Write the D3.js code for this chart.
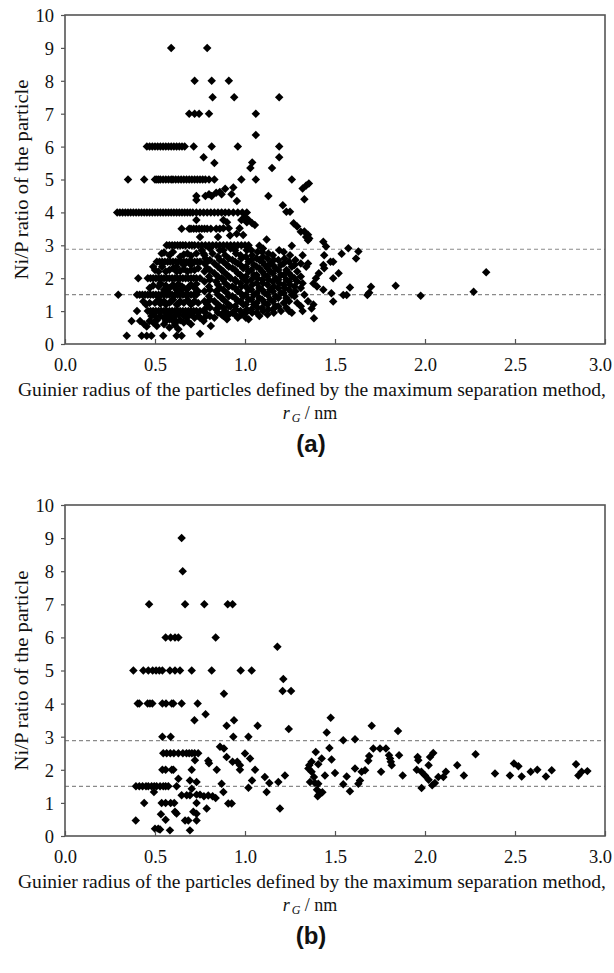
<!DOCTYPE html>
<html>
<head>
<meta charset="utf-8">
<script src="https://cdn.jsdelivr.net/npm/d3@7"></script>
<style>
  body { margin: 0; background: #fff; }
  svg { display: block; }
</style>
</head>
<body>
<svg id="fig" width="614" height="973"></svg>
<script>
// axis ticks and the two reference levels
const xTicks = [0, 0.5, 1.0, 1.5, 2.0, 2.5, 3.0];
const yTicks = [0, 1, 2, 3, 4, 5, 6, 7, 8, 9, 10];
const refLevels = [2.88, 1.5];

// (a) points lying on the integer / half-integer bands
const bandsA = [
  [0.59,9],[0.79,9],
  [0.72,8],[0.815,8],[0.91,8],
  [0.82,7.5],[0.94,7.5],[1.19,7.5],
  [0.69,7],[0.72,7],[0.745,7],[0.80,7],[1.06,7],
  [0.455,6],[0.47,6],[0.485,6],[0.50,6],[0.515,6],[0.53,6],[0.545,6],[0.56,6],[0.575,6],[0.59,6],
  [0.605,6],[0.62,6],[0.635,6],[0.65,6],[0.665,6],[0.715,6],[0.815,6],[0.96,6],[1.19,6],
  [0.35,5],[0.44,5],[0.50,5],[0.51,5],[0.52,5],[0.53,5],[0.545,5],[0.56,5],[0.575,5],[0.59,5],
  [0.60,5],[0.615,5],[0.63,5],[0.645,5],[0.66,5],[0.675,5],[0.69,5],[0.705,5],[0.72,5],[0.735,5],
  [0.75,5],[0.765,5],[0.78,5],[0.80,5],[0.83,5],[0.98,5],[1.06,5],[1.26,5],
  [0.29,4],[0.305,4],[0.32,4],[0.335,4],[0.35,4],[0.365,4],[0.38,4],[0.395,4],[0.41,4],[0.425,4],
  [0.44,4],[0.455,4],[0.47,4],[0.485,4],[0.50,4],[0.515,4],[0.53,4],[0.545,4],[0.56,4],[0.575,4],
  [0.59,4],[0.605,4],[0.62,4],[0.635,4],[0.65,4],[0.665,4],[0.68,4],[0.695,4],[0.71,4],[0.73,4],
  [0.75,4],[0.77,4],[0.79,4],[0.81,4],[0.83,4],[0.85,4],[0.87,4],[0.89,4],[0.91,4],[0.935,4],
  [0.96,4],[0.985,4],[1.01,4],
  [0.648,3.5],[0.69,3.5],[0.70,3.5],[0.715,3.5],[0.73,3.5],[0.745,3.5],[0.76,3.5],[0.775,3.5],
  [0.79,3.5],[0.81,3.5],[0.84,3.5],[0.86,3.5],[0.88,3.52],[0.91,3.52],[0.97,3.52],
  [0.565,3],[0.58,3],[0.595,3],[0.61,3],[0.625,3],[0.64,3],[0.655,3],[0.67,3],[0.69,3],[0.705,3],
  [0.72,3],[0.74,3],[0.76,3],[0.78,3],[0.80,3],[0.82,3],[0.84,3],[0.86,3],[0.88,3],[0.90,3],
  [0.92,3],[0.94,3],[0.96,3],[0.98,3],[1.0,3],[1.02,3],
  [0.51,2.5],[0.525,2.5],[0.54,2.5],[0.555,2.5],[0.57,2.5],[0.585,2.5],[0.60,2.5],[0.615,2.5],
  [0.63,2.5],[0.645,2.5],[0.66,2.5],[0.675,2.5],[0.69,2.5],[0.705,2.5],[0.72,2.5],[0.735,2.5],
  [0.75,2.5],[0.79,2.5],
  [0.407,2],[0.46,2],[0.475,2],[0.49,2],[0.505,2],[0.52,2],[0.535,2],[0.55,2],[0.565,2],[0.58,2],
  [0.595,2],[0.61,2],[0.625,2],[0.64,2],[0.655,2],[0.67,2],[0.685,2],[0.70,2],[0.715,2],[0.73,2],[0.75,2],
  [0.296,1.5],[0.40,1.5],[0.415,1.5],[0.43,1.5],[0.445,1.5],[0.46,1.5],[0.475,1.5],[0.49,1.5],
  [0.505,1.5],[0.52,1.5],[0.535,1.5],[0.55,1.5],[0.565,1.5],[0.58,1.5],[0.595,1.5],[0.61,1.5],
  [0.625,1.5],[0.64,1.5],[0.655,1.5],[0.67,1.5],[0.685,1.5],[0.70,1.5],[0.715,1.5],[0.73,1.5],
  [0.40,1],[0.46,1],[0.475,1],[0.49,1],[0.505,1],[0.52,1],[0.535,1],[0.55,1],[0.565,1],[0.58,1],
  [0.595,1],[0.61,1],[0.625,1],[0.64,1],[0.655,1],[0.67,1],[0.685,1],[0.70,1],[0.715,1],[0.73,1],[0.75,1]
];

// (a) points off the bands
const scatterA = [
  [1.06,6.35],[0.77,5.68],[1.19,5.68],[0.83,5.5],[1.04,5.52],[1.03,5.35],[1.15,5.35],
  [1.32,4.73],[1.34,4.82],[1.355,4.88],
  [0.73,4.5],[0.78,4.5],[0.80,4.55],[0.815,4.5],[0.84,4.6],[0.86,4.62],[0.87,4.55],[0.89,4.72],
  [0.925,4.55],[0.935,4.76],[0.955,4.35],[0.73,4.38],[1.13,4.5],[1.33,4.4],
  [1.21,4.22],[1.23,4.02],[1.25,4.02],
  [0.73,3.77],[0.88,3.77],[0.90,3.7],[0.98,3.77],[1.0,3.86],[1.02,3.77],[1.01,3.7],[1.04,3.67],[1.055,3.62],
  [0.954,3.35],[0.75,3.25],[0.85,3.25],[0.917,3.3],[0.99,3.31],[1.12,3.18],
  [1.27,3.67],[1.29,3.57],[1.31,3.41],[1.34,3.25],[1.35,3.15],[1.357,3.21],[1.35,3.32],[1.33,3.42],
  [1.08,2.99],[1.10,2.9],[1.26,2.99],[1.435,3.11],[1.45,2.96],[1.574,2.91],[1.63,2.81],[1.537,2.74],
  [1.617,2.6],[1.44,2.7],[1.49,2.5],[1.475,2.5],[1.435,2.4],[1.44,2.3],[1.52,2.15],[1.49,2.0],
  [1.394,2.0],[1.41,2.15],[1.38,1.84],[1.4,1.75],[1.435,1.65],[1.583,1.72],[1.48,1.54],[1.49,1.29],
  [1.546,1.49],[1.565,1.49],[1.68,1.49],[1.69,1.56],[1.70,1.74],[1.837,1.77],[1.976,1.47],
  [2.27,1.59],[2.34,2.18],[1.383,0.78],[1.37,1.08],[1.38,1.2],[1.35,1.3],[1.33,1.5],[1.32,1.0],
  [1.32,1.85],[1.32,2.7],[1.34,2.35],[1.35,2.45],
  [0.537,2.75],[0.73,2.75],[0.77,2.75],[0.49,2.35],[0.54,2.35],[0.60,2.3],[0.66,2.4],
  [0.37,0.7],[0.417,0.7],[0.47,0.7],[0.49,0.65],[0.51,0.72],[0.56,0.7],[0.58,0.75],[0.60,0.7],
  [0.62,0.68],[0.64,0.72],[0.66,0.65],[0.68,0.7],[0.454,0.53],[0.51,0.55],[0.58,0.5],[0.63,0.45],
  [0.343,0.25],[0.426,0.25],[0.454,0.25],[0.48,0.25],[0.546,0.25],[0.62,0.25],[0.648,0.25],[0.75,0.31],
  [0.435,1.29],[0.45,1.2],[0.50,1.25],[0.52,1.35],[0.55,1.3],[0.58,1.25],[0.60,1.35],[0.62,1.2],
  [0.64,1.3],[0.66,1.25],[0.68,1.33],[0.70,1.2],[0.72,1.3],[0.74,1.25],[0.47,1.7],[0.52,1.75],
  [0.55,1.65],[0.58,1.7],[0.60,1.8],[0.62,1.65],[0.65,1.75],[0.68,1.67],[0.70,1.8],[0.72,1.7],
  [0.74,1.6],[0.53,1.85],[0.57,1.6],[0.64,1.6],[0.48,0.85],[0.53,0.85],[0.57,0.9],[0.61,0.85],
  [0.66,0.85],[0.70,0.9],[0.74,0.85],[0.75,0.8],[0.56,2.2],[0.62,2.2],[0.68,2.2],[0.72,2.25],
  [0.58,2.7],[0.64,2.65],[0.68,2.75],[0.62,2.35],[0.70,2.4],[0.74,2.3],
  [0.55,2.78],[0.60,2.8],[0.66,2.72],[0.70,2.68],[0.50,2.25],[0.52,2.2],[0.58,2.25],[0.64,2.22],
  [0.66,2.28],[0.70,2.25],[0.49,1.78],[0.56,1.78],[0.61,1.72],[0.63,1.82],[0.66,1.7],[0.69,1.75],
  [0.73,1.82],[0.47,1.25],[0.53,1.22],[0.56,1.2],[0.59,1.3],[0.63,1.22],[0.69,1.28],[0.71,1.25],
  [0.50,0.85],[0.55,0.8],[0.59,0.82],[0.63,0.9],[0.68,0.82],[0.72,0.8],[0.44,0.6],[0.55,0.6],
  [0.61,0.58],[0.70,0.6]
];

// (a) the dense cloud right of the bands
const cloudA = [
  [0.76,2.85],[0.78,2.6],[0.79,2.3],[0.80,2.05],[0.80,1.75],[0.80,1.45],[0.79,1.2],[0.78,0.95],[0.77,0.7],[0.81,0.55],
  [0.82,2.75],[0.83,2.45],[0.83,2.15],[0.84,1.9],[0.84,1.6],[0.83,1.3],[0.84,1.05],[0.83,0.8],
  [0.86,2.85],[0.86,2.55],[0.87,2.25],[0.87,2.0],[0.86,1.7],[0.87,1.4],[0.86,1.15],[0.87,0.9],
  [0.89,2.7],[0.90,2.4],[0.90,2.1],[0.89,1.85],[0.90,1.55],[0.90,1.25],[0.89,1.0],[0.90,0.75],
  [0.92,2.9],[0.93,2.55],[0.93,2.3],[0.92,2.0],[0.93,1.75],[0.93,1.45],[0.92,1.15],[0.93,0.95],
  [0.95,2.75],[0.96,2.45],[0.96,2.15],[0.95,1.9],[0.96,1.6],[0.96,1.3],[0.95,1.05],[0.96,0.8],
  [0.98,2.6],[0.99,2.3],[0.99,2.0],[0.98,1.75],[0.99,1.45],[0.99,1.2],[0.98,0.9],
  [1.01,2.85],[1.02,2.5],[1.02,2.2],[1.01,1.9],[1.02,1.65],[1.02,1.35],[1.01,1.05],[1.02,0.75],
  [1.04,2.7],[1.05,2.4],[1.05,2.1],[1.04,1.8],[1.05,1.5],[1.05,1.2],[1.04,0.95],
  [1.07,2.8],[1.08,2.55],[1.08,2.3],[1.07,2.0],[1.08,1.7],[1.08,1.4],[1.07,1.1],[1.08,0.85],
  [1.10,2.65],[1.11,2.4],[1.11,2.1],[1.10,1.85],[1.11,1.55],[1.11,1.25],[1.10,1.0],
  [1.13,2.75],[1.14,2.45],[1.14,2.2],[1.13,1.95],[1.14,1.65],[1.14,1.35],[1.13,1.05],
  [1.16,2.55],[1.17,2.3],[1.17,2.0],[1.16,1.75],[1.17,1.45],[1.17,1.15],[1.16,0.95],
  [1.19,2.85],[1.20,2.4],[1.20,2.1],[1.19,1.85],[1.20,1.55],[1.20,1.0],
  [1.22,2.6],[1.23,2.25],[1.23,1.95],[1.22,1.7],[1.23,1.4],[1.23,1.1],
  [1.25,2.7],[1.26,2.35],[1.26,2.05],[1.25,1.8],[1.26,1.5],[1.26,0.95],
  [1.28,2.55],[1.29,2.2],[1.29,1.9],[1.28,1.6],[1.29,1.25],
  [1.31,2.45],[1.31,2.05],[1.31,1.7],[1.31,1.15],
  [0.775,2.7],[0.775,2.45],[0.775,2.2],[0.775,1.9],[0.775,1.6],[0.775,1.3],[0.775,1.05],[0.775,0.8],
  [0.805,2.9],[0.805,2.55],[0.805,2.25],[0.805,1.95],[0.805,1.65],[0.805,1.35],[0.805,1.1],[0.805,0.85],
  [0.85,2.65],[0.85,2.35],[0.85,2.05],[0.85,1.8],[0.85,1.5],[0.85,1.2],[0.85,0.95],
  [0.88,2.85],[0.88,2.5],[0.88,2.2],[0.88,1.95],[0.88,1.65],[0.88,1.35],[0.88,1.1],[0.88,0.85],
  [0.91,2.6],[0.91,2.35],[0.91,2.05],[0.91,1.75],[0.91,1.45],[0.91,1.15],[0.91,0.9],
  [0.945,2.85],[0.945,2.5],[0.945,2.25],[0.945,1.95],[0.945,1.7],[0.945,1.4],[0.945,1.15],[0.945,0.9],
  [0.975,2.7],[0.975,2.4],[0.975,2.1],[0.975,1.85],[0.975,1.55],[0.975,1.3],[0.975,1.0],
  [1.005,2.65],[1.005,2.35],[1.005,2.05],[1.005,1.75],[1.005,1.5],[1.005,1.2],[1.005,0.95],[1.005,0.8],
  [1.035,2.85],[1.035,2.55],[1.035,2.25],[1.035,1.95],[1.035,1.65],[1.035,1.35],[1.035,1.05],
  [1.065,2.6],[1.065,2.35],[1.065,2.1],[1.065,1.85],[1.065,1.55],[1.065,1.25],[1.065,0.95],
  [1.095,2.8],[1.095,2.5],[1.095,2.2],[1.095,1.95],[1.095,1.65],[1.095,1.35],[1.095,1.1],
  [1.125,2.6],[1.125,2.3],[1.125,2.05],[1.125,1.8],[1.125,1.5],[1.125,1.2],[1.125,0.9],
  [1.155,2.7],[1.155,2.4],[1.155,2.15],[1.155,1.9],[1.155,1.6],[1.155,1.3],[1.155,1.05],
  [1.185,2.55],[1.185,2.25],[1.185,1.95],[1.185,1.7],[1.185,1.4],[1.185,1.15],
  [1.215,2.8],[1.215,2.45],[1.215,2.1],[1.215,1.8],[1.215,1.55],[1.215,1.25],
  [1.245,2.5],[1.245,2.15],[1.245,1.9],[1.245,1.65],[1.245,1.3],[1.245,1.0],
  [1.275,2.4],[1.275,2.0],[1.275,1.75],[1.275,1.45]
];

// (b) points
const pointsB = [
  [0.648,9],[0.654,8],[0.467,7],[0.667,7],[0.774,7],[0.904,7],[0.931,7],
  [0.559,6],[0.587,6],[0.611,6],[0.63,6],[0.837,6],[1.18,5.72],
  [0.38,5],[0.435,5],[0.463,5],[0.487,5],[0.506,5],[0.524,5],[0.541,5],[0.583,5],[0.611,5],
  [0.639,5],[0.704,5],[0.815,5],[0.976,5],[1.037,5],
  [1.213,4.74],[1.209,4.38],[1.256,4.38],[0.883,4.3],
  [0.404,4],[0.413,4],[0.459,4],[0.472,4],[0.485,4],[0.541,4],[0.561,4],[0.593,4],[0.602,4],
  [0.648,4],[0.737,4],
  [0.781,3.68],[0.719,3.5],[0.939,3.5],[0.898,3.33],[1.07,3.33],[1.243,3.23],
  [0.541,3],[0.587,3],[0.935,3],[1.019,3],
  [0.546,2.5],[0.565,2.5],[0.585,2.5],[0.605,2.5],[0.63,2.5],[0.655,2.5],[0.675,2.5],[0.69,2.5],
  [0.705,2.5],[0.72,2.5],[0.74,2.5],
  [0.861,2.7],[0.883,2.64],[1.0,2.49],[0.722,2.29],[0.796,2.27],[0.80,2.2],[0.898,2.39],
  [0.931,2.24],[0.957,2.24],[1.028,2.34],
  [0.541,2],[0.559,2],[0.593,2],[0.602,2],[0.704,2],[0.843,2],[0.972,2],[1.056,2],[0.972,2.14],
  [0.63,1.73],[0.694,1.68],[0.731,1.63],[1.11,1.78],[1.135,1.6],[1.185,1.63],[1.222,1.83],
  [1.039,1.68],[0.87,1.58],
  [0.394,1.5],[0.413,1.5],[0.431,1.5],[0.45,1.5],[0.463,1.5],[0.481,1.5],[0.496,1.5],[0.509,1.5],
  [0.528,1.5],[0.546,1.5],[0.559,1.5],[0.574,1.5],[0.62,1.5],[1.019,1.46],
  [0.494,1.33],[0.88,1.33],[1.12,1.33],[0.648,1.23],[0.676,1.23],[0.694,1.23],[0.731,1.25],
  [0.75,1.25],[0.772,1.2],[0.796,1.22],[0.82,1.2],[0.837,1.15],[0.704,1.43],
  [0.44,1],[0.537,1],[0.559,1],[0.587,1],[0.607,1],[0.731,1],[0.907,0.98],[0.926,0.98],
  [1.194,0.83],[0.787,0.83],[0.393,0.47],[0.533,0.66],[0.611,0.73],[0.62,0.68],
  [0.667,0.47],[0.685,0.47],[0.731,0.47],[0.713,0.73],[0.731,0.67],[0.559,0.49],
  [0.5,0.22],[0.518,0.22],[0.528,0.2],[0.583,0.17],[0.694,0.17],
  [1.476,3.57],[1.454,3.13],[1.704,3.33],[1.85,3.17],[1.546,2.89],[1.611,2.92],[1.469,2.66],
  [1.393,2.54],[1.713,2.64],[1.75,2.64],[1.783,2.64],[1.69,2.42],[1.8,2.44],[1.806,2.34],
  [1.81,2.24],[1.815,2.14],[1.856,2.44],[1.426,2.34],[1.481,2.31],[1.407,2.17],[1.37,2.24],
  [1.357,2.14],[1.352,2.04],[1.37,1.94],[1.685,2.27],[1.667,1.99],[1.648,1.94],[1.611,2.04],
  [1.565,1.8],[1.5,1.9],[1.444,1.83],[1.383,1.78],[1.389,1.6],[1.361,1.63],[1.407,1.58],
  [1.4,1.4],[1.41,1.25],[1.42,1.3],[1.43,1.32],[1.404,1.2],[1.546,1.56],[1.583,1.35],
  [1.639,1.68],[1.63,1.58],[1.756,1.94],[1.876,1.83],[1.959,2.39],[1.963,2.29],[1.954,2.0],
  [1.98,1.94],[2.0,1.83],[1.981,1.45],[2.028,2.39],[2.046,2.51],[2.02,2.14],[2.02,1.7],
  [2.04,1.53],[2.055,1.6],[2.074,1.78],[2.102,1.78],[2.116,1.94],[2.179,2.14],[2.216,1.83],
  [2.281,2.47],[2.389,1.89],[2.472,1.83],[2.494,2.19],[2.519,2.11],[2.537,1.8],[2.587,1.94],
  [2.624,2.0],[2.672,1.8],[2.704,1.99],[2.839,2.17],[2.852,1.83],[2.87,1.94],[2.902,1.96]
];

const serif = "'Liberation Serif', 'Times New Roman', 'DejaVu Serif', serif";
const svg = d3.select("#fig");
svg.append("rect").attr("width", 614).attr("height", 973).attr("fill", "#fff");

const diamond = d3.symbol().type(d3.symbolDiamond2).size(46);

function drawPanel(top, height, pts, tag) {
  const left = 65, width = 540;
  const x = d3.scaleLinear().domain([0, 3]).range([0, width]);
  const y = d3.scaleLinear().domain([0, 10]).range([height, 0]);
  const g = svg.append("g").attr("transform", `translate(${left},${top})`);

  // dashed reference levels
  g.selectAll("line.ref").data(refLevels).join("line")
    .attr("class", "ref")
    .attr("x1", 0).attr("x2", width)
    .attr("y1", d => y(d)).attr("y2", d => y(d))
    .attr("stroke", "#8a8a8a").attr("stroke-width", 1.1)
    .attr("stroke-dasharray", "4,3");

  // points
  g.selectAll("path.pt").data(pts).join("path")
    .attr("class", "pt")
    .attr("d", diamond)
    .attr("transform", d => `translate(${x(d[0])},${y(d[1])})`)
    .attr("fill", "#000");

  // axes
  const xa = g.append("g").attr("transform", `translate(0,${height})`)
    .call(d3.axisBottom(x).tickValues(xTicks).tickFormat(d3.format(".1f"))
      .tickSizeInner(-5).tickSizeOuter(0).tickPadding(0));
  xa.attr("font-family", serif).attr("font-size", 18.5);
  xa.select(".domain").remove();
  xa.selectAll(".tick line").attr("stroke", "#555").attr("stroke-width", 1.2);
  xa.selectAll(".tick text").attr("fill", "#111").attr("y", 27).attr("dy", 0)
    .attr("dx", d => d === 3 ? -5 : 0);

  const ya = g.append("g")
    .call(d3.axisLeft(y).tickValues(yTicks).tickFormat(d3.format("d"))
      .tickSizeInner(4).tickSizeOuter(0).tickPadding(7));
  ya.attr("font-family", serif).attr("font-size", 18.5);
  ya.select(".domain").remove();
  ya.selectAll(".tick line").attr("stroke", "#555").attr("stroke-width", 1.2);
  ya.selectAll(".tick text").attr("fill", "#111").attr("dy", "0.35em");

  // frame
  g.append("rect").attr("width", width).attr("height", height)
    .attr("fill", "none").attr("stroke", "#555").attr("stroke-width", 1.6);

  // y label
  svg.append("text")
    .attr("transform", `translate(22,${top + height / 2}) rotate(-90)`)
    .attr("text-anchor", "middle").attr("dy", "0.35em")
    .attr("textLength", 200).attr("lengthAdjust", "spacingAndGlyphs")
    .attr("font-family", serif).attr("font-size", 18.5).attr("fill", "#111")
    .text("Ni/P ratio of the particle");

  // x label lines
  const base = top + height;
  svg.append("text")
    .attr("x", 312).attr("y", base + 52)
    .attr("text-anchor", "middle")
    .attr("textLength", 588).attr("lengthAdjust", "spacingAndGlyphs")
    .attr("font-family", serif).attr("font-size", 18.5).attr("fill", "#111")
    .text("Guinier radius of the particles defined by the maximum separation method,");

  const unit = svg.append("text")
    .attr("x", 310).attr("y", base + 75)
    .attr("text-anchor", "middle")
    .attr("font-family", serif).attr("font-size", 18).attr("fill", "#111");
  unit.append("tspan").attr("font-style", "italic").text("r");
  unit.append("tspan").attr("dy", 3).attr("dx", 2).attr("font-style", "italic").attr("font-size", 12).text("G");
  unit.append("tspan").attr("dy", -3).text(" / nm");

  svg.append("text")
    .attr("x", 311).attr("y", base + 108)
    .attr("text-anchor", "middle")
    .attr("font-family", "'Liberation Sans', Arial, sans-serif")
    .attr("font-size", 24).attr("font-weight", "bold").attr("fill", "#111")
    .text(tag);
}

drawPanel(15, 329, bandsA.concat(scatterA, cloudA), "(a)");
drawPanel(505, 331, pointsB, "(b)");
</script>
</body>
</html>
